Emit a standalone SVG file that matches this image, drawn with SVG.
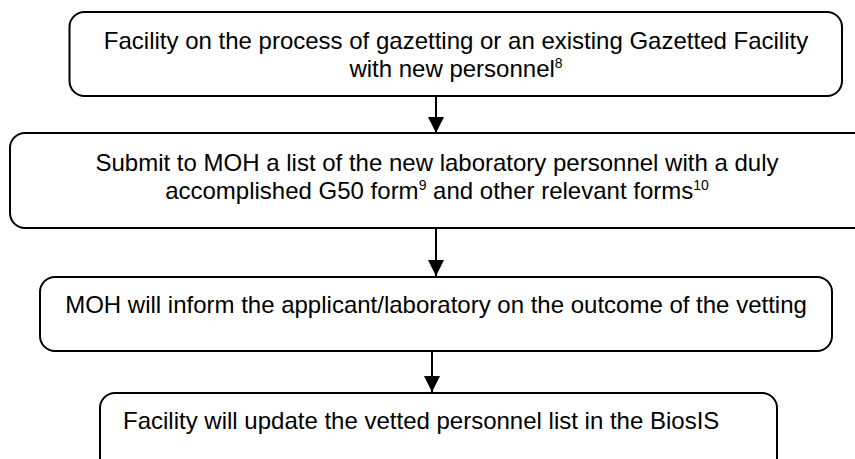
<svg xmlns="http://www.w3.org/2000/svg" width="855" height="459" viewBox="0 0 855 459">
<style>
.box{fill:#fff;stroke:#000;stroke-width:2}
.t{font-family:"Liberation Sans",Arial,sans-serif;font-size:24px;fill:#000}
.c{text-anchor:middle}
.s{font-size:14px}
.edge{stroke:#000;stroke-width:2;fill:none}
</style>
<defs>
<marker id="ah" markerUnits="userSpaceOnUse" markerWidth="16" markerHeight="16" refX="16" refY="8" orient="auto" viewBox="0 0 16 16">
<path d="M0,0 L16,8 L0,16 Z" fill="#000"/>
</marker>
</defs>
<rect width="855" height="459" fill="#fff"/>
<g id="connectors">
<line class="edge" x1="436" y1="96" x2="436" y2="133" marker-end="url(#ah)"/>
<line class="edge" x1="436" y1="228" x2="436" y2="276" marker-end="url(#ah)"/>
<line class="edge" x1="432" y1="347" x2="432" y2="392" marker-end="url(#ah)"/>
</g>
<g id="node1">
<rect class="box" x="69.5" y="12" width="772.5" height="84" rx="15"/>
<text class="t c" x="456" y="49">Facility on the process of gazetting or an existing Gazetted Facility</text>
<text class="t c" x="456" y="77">with new personnel<tspan class="s" dy="-9">8</tspan></text>
</g>
<g id="node2">
<rect class="box" x="10" y="133" width="860" height="95" rx="15"/>
<text class="t c" x="437" y="171">Submit to MOH a list of the new laboratory personnel with a duly</text>
<text class="t c" x="437" y="199">accomplished G50 form<tspan class="s" dy="-9">9</tspan><tspan dy="9"> and other relevant forms</tspan><tspan class="s" dy="-9">10</tspan></text>
</g>
<g id="node3">
<rect class="box" x="40" y="277" width="792" height="74" rx="15"/>
<text class="t c" x="436" y="313">MOH will inform the applicant/laboratory on the outcome of the vetting</text>
</g>
<g id="node4">
<rect class="box" x="100" y="393" width="677" height="80" rx="15"/>
<text class="t" x="123" y="429">Facility will update the vetted personnel list in the BiosIS</text>
</g>
</svg>
